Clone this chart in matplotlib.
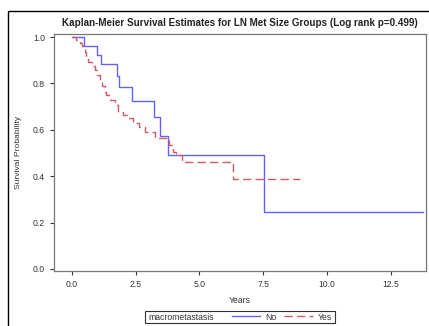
import matplotlib.pyplot as plt
from matplotlib.patches import Rectangle
from matplotlib.lines import Line2D

plt.rcParams['font.family'] = ['Liberation Sans', 'DejaVu Sans']

# Kaplan-Meier step data
no_t = [0, 0.48, 1.0, 1.14, 1.75, 1.86, 2.34, 3.2, 3.47, 3.75, 7.54]
no_s = [1.0, 0.961, 0.922, 0.882, 0.833, 0.783, 0.723, 0.657, 0.575, 0.491, 0.244]
no_end = 13.75

yes_t = [0, 0.15, 0.3, 0.4, 0.5, 0.55, 0.65, 0.8, 0.9, 1.0, 1.1, 1.2, 1.3, 1.35,
         1.5, 1.7, 1.82, 2.0, 2.2, 2.4, 2.65, 2.85, 3.25, 3.8, 3.95, 4.1, 4.3, 6.3]
yes_s = [1.0, 0.987, 0.974, 0.96, 0.935, 0.91, 0.893, 0.875, 0.858, 0.837, 0.815,
         0.79, 0.765, 0.75, 0.728, 0.707, 0.678, 0.664, 0.65, 0.631, 0.611, 0.59,
         0.563, 0.535, 0.506, 0.49, 0.462, 0.387]
yes_end = 8.94

xticks = [0.0, 2.5, 5.0, 7.5, 10.0, 12.5]
yticks = [0.0, 0.2, 0.4, 0.6, 0.8, 1.0]

blue = '#6464F0'
red = '#D25A6A'

fig = plt.figure(figsize=(4.29, 3.26), dpi=100)
ax = fig.add_axes([54/429, 1-271/326, 372/429, 237/326])

ax.step(no_t + [no_end], no_s + [no_s[-1]], where='post', color=blue, lw=1)
ax.step(yes_t + [yes_end], yes_s + [yes_s[-1]], where='post', color=red, lw=1,
        dashes=(6, 3))

ax.set_xlim(-0.7, 13.88)
ax.set_ylim(-0.009, 1.013)
ax.set_xticks(xticks)
ax.set_yticks(yticks)
ax.set_xticklabels([f'{v:.1f}' for v in xticks])
ax.set_yticklabels([f'{v:.1f}' for v in yticks])
ax.tick_params(labelsize=6.2, colors='#333333', length=3, width=0.8)
for s in ax.spines.values():
    s.set_color('#777777')
    s.set_linewidth(0.9)

ax.set_xlabel('Years', fontsize=6.2, color='#333333', labelpad=5)
ax.set_ylabel('Survival Probability', fontsize=6.1, color='#333333', labelpad=8)
ax.set_title('Kaplan-Meier Survival Estimates for LN Met Size Groups (Log rank p=0.499)',
             fontsize=7.1, fontweight='bold', color='#222222', pad=6, x=0.5)

# legend box at the bottom
fig.patches.append(Rectangle((145/429, 1-323/326), 190/429, 12/326, fill=False,
                             lw=0.8, edgecolor='#333333', transform=fig.transFigure))
fig.text(148/429, 1-317/326, 'macrometastasis', fontsize=6.2, color='#333333',
         va='center_baseline')
handles = [Line2D([], [], color=blue, lw=1),
           Line2D([], [], color=red, lw=1, dashes=(6, 3))]
fig.legend(handles, ['No', 'Yes'], ncol=2, frameon=False, fontsize=6.2,
           loc='center left', bbox_to_anchor=(232/429, 1-317/326),
           handlelength=3.3, handletextpad=0.6, columnspacing=0.9,
           borderpad=0, borderaxespad=0, labelcolor='#333333')

# outer frame
fig.patches.append(Rectangle((8/429, -0.1), 1.2, (326-11)/326+0.1, fill=False,
                             lw=1, edgecolor='black', transform=fig.transFigure))

fig.savefig('out.png', dpi=100)
